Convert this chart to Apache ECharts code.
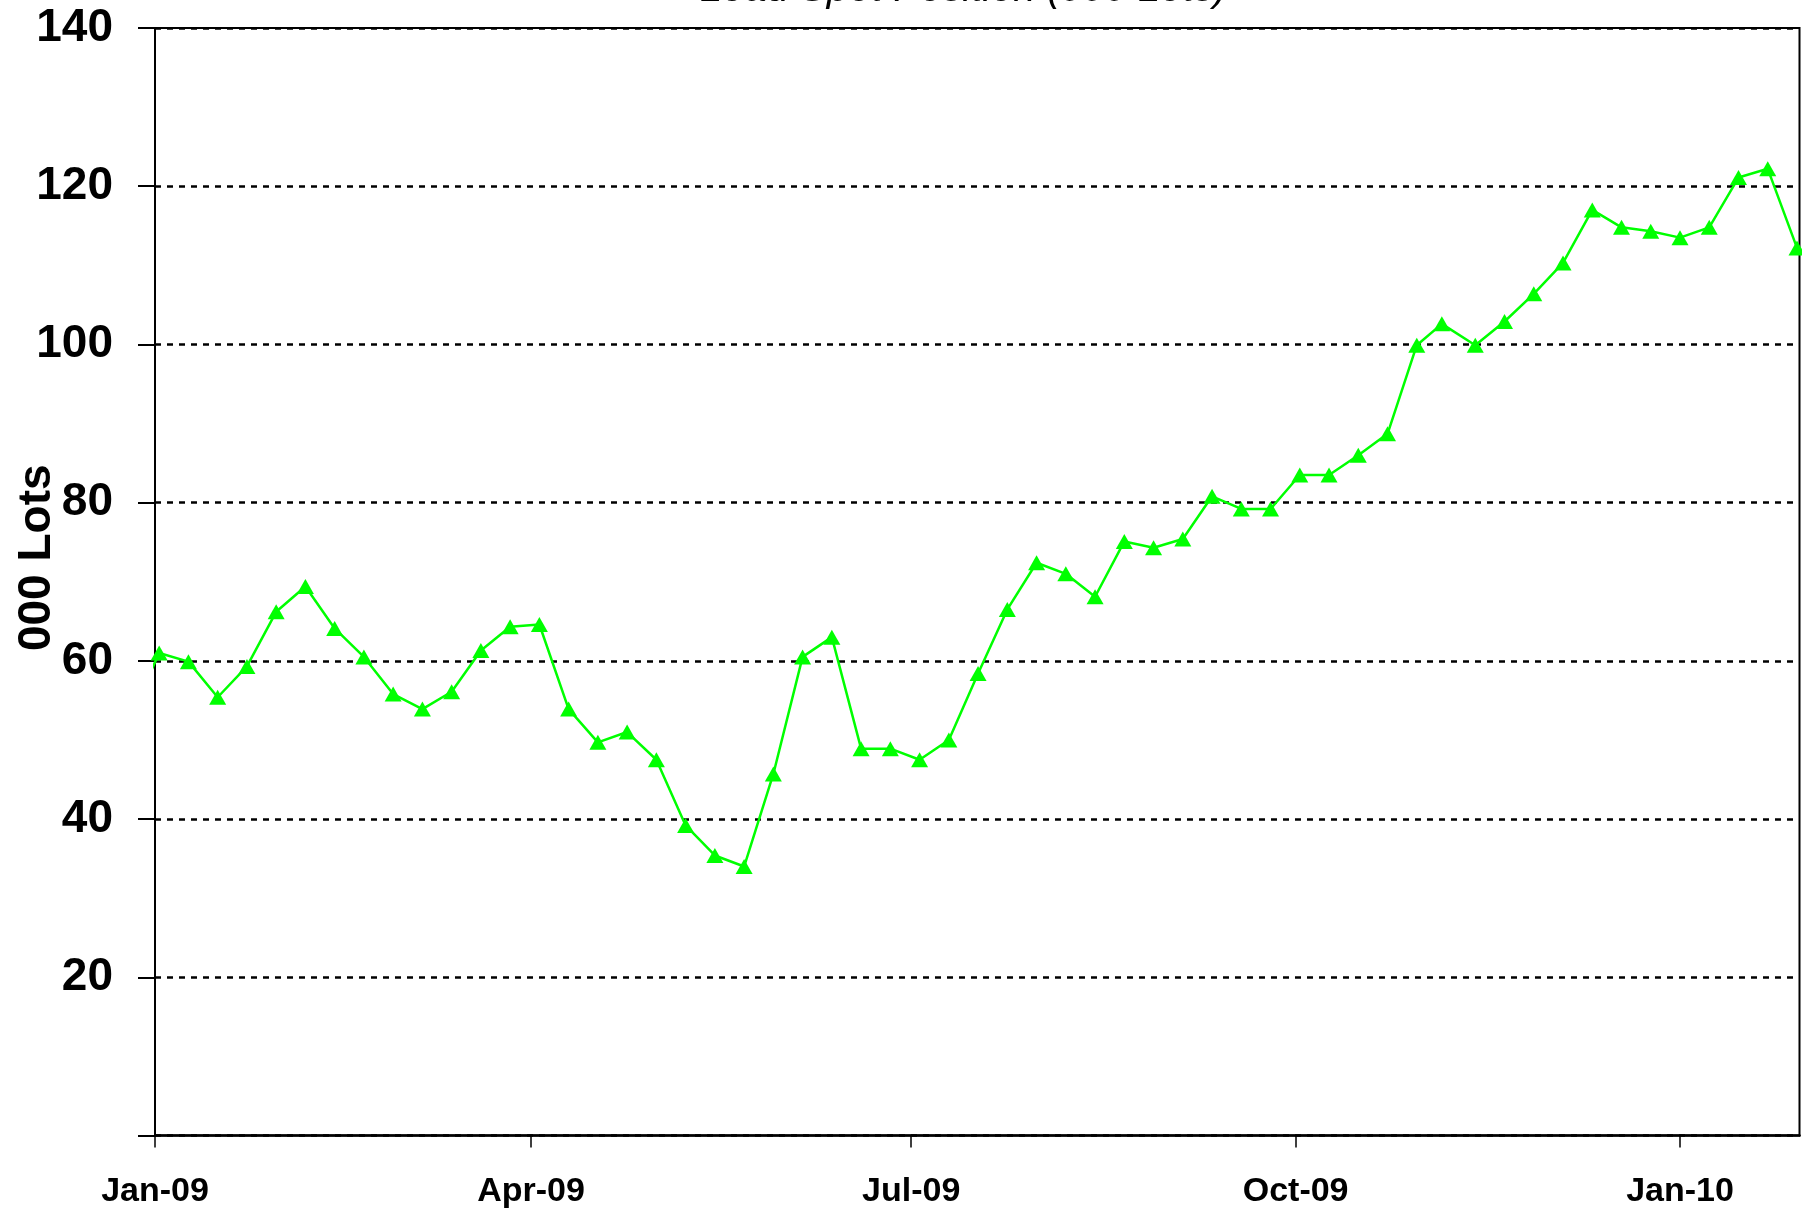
<!DOCTYPE html>
<html>
<head>
<meta charset="utf-8">
<title>Spot Position</title>
<script src="https://cdn.jsdelivr.net/npm/echarts@6/dist/echarts.min.js"></script>
<style>
  html, body { margin: 0; padding: 0; background: #fff; }
  #main { width: 1802px; height: 1210px; }
</style>
</head>
<body>
<div id="main"></div>
<script>
// weekly observations (Fridays), first one sits just before the axis start
const weeks = [
  "2008-12-26",
  "2009-01-02", "2009-01-09", "2009-01-16", "2009-01-23", "2009-01-30",
  "2009-02-06", "2009-02-13", "2009-02-20", "2009-02-27",
  "2009-03-06", "2009-03-13", "2009-03-20", "2009-03-27",
  "2009-04-03", "2009-04-10", "2009-04-17", "2009-04-24",
  "2009-05-01", "2009-05-08", "2009-05-15", "2009-05-22", "2009-05-29",
  "2009-06-05", "2009-06-12", "2009-06-19", "2009-06-26",
  "2009-07-03", "2009-07-10", "2009-07-17", "2009-07-24", "2009-07-31",
  "2009-08-07", "2009-08-14", "2009-08-21", "2009-08-28",
  "2009-09-04", "2009-09-11", "2009-09-18", "2009-09-25",
  "2009-10-02", "2009-10-09", "2009-10-16", "2009-10-23", "2009-10-30",
  "2009-11-05", "2009-11-13", "2009-11-20", "2009-11-27",
  "2009-12-04", "2009-12-11", "2009-12-18", "2009-12-25",
  "2010-01-01", "2010-01-08", "2010-01-15", "2010-01-22", "2010-01-29",
];
const lots = [
  52.8,
  61.0, 59.9, 55.4, 59.3, 66.2,
  69.4, 64.1, 60.5, 55.8,
  53.9, 56.1, 61.3, 64.3,
  64.6, 53.9, 49.7, 51.0,
  47.5, 39.2, 35.4, 34.0, 45.7,
  60.5, 63.0, 48.9, 48.9,
  47.5, 50.0, 58.4, 66.5, 72.4,
  71.0, 68.1, 75.1, 74.3,
  75.4, 80.8, 79.2, 79.2,
  83.5, 83.5, 86.0, 88.7, 99.9,
  102.6, 99.9, 102.9, 106.4,
  110.3, 117.0, 114.8, 114.3,
  113.5, 114.8, 121.1, 122.2, 112.2,
];
const quarterTicks = ["2009-01-01", "2009-04-01", "2009-07-01", "2009-10-01", "2010-01-01"];
const monthNames = ["Jan", "Feb", "Mar", "Apr", "May", "Jun", "Jul", "Aug", "Sep", "Oct", "Nov", "Dec"];
const titleText = "Lead Spot Position (000 Lots)";

const font = '"Liberation Sans", Arial, sans-serif';
const DAY = 86400000;
const ts = (s) => {
  const [y, m, d] = s.split("-").map(Number);
  return Date.UTC(y, m - 1, d);
};
const tickTs = quarterTicks.map(ts);

const chart = echarts.init(document.getElementById("main"));
chart.setOption({
  animation: false,
  backgroundColor: "#fff",
  title: {
    text: titleText,
    left: 695,
    top: -35,
    textStyle: { fontFamily: font, fontSize: 40, fontStyle: "italic", fontWeight: "normal", color: "#000" },
  },
  grid: {
    left: 155,
    right: 2.5,
    top: 28,
    bottom: 74.5,
    outerBoundsMode: "none",
    containLabel: false,
    show: true,
    borderColor: "#000",
    borderWidth: 2,
  },
  xAxis: {
    // dates as timestamps on a plain value axis so ticks can sit on quarter starts
    type: "value",
    min: ts("2009-01-01"),
    max: ts("2010-01-29") + 0.6 * DAY,
    axisLine: { lineStyle: { color: "#000", width: 2.5 } },
    axisTick: { show: true, length: 12, customValues: tickTs, lineStyle: { color: "#000", width: 1.5 } },
    axisLabel: {
      customValues: tickTs,
      formatter(v) {
        const d = new Date(v);
        return monthNames[d.getUTCMonth()] + "-" + String(d.getUTCFullYear() % 100).padStart(2, "0");
      },
      fontFamily: font,
      fontSize: 34,
      fontWeight: "bold",
      color: "#000",
      margin: 39,
    },
    splitLine: { show: false },
  },
  yAxis: {
    type: "value",
    min: 0,
    max: 140,
    interval: 20,
    name: "000 Lots",
    nameLocation: "middle",
    nameGap: 95,
    nameMoveOverlap: false,
    nameTextStyle: { fontFamily: font, fontSize: 46, fontWeight: "bold", color: "#000", padding: [0, 0, 0, 48] },
    axisLine: { show: true, lineStyle: { color: "#000", width: 2 } },
    axisTick: { show: true, length: 17, lineStyle: { color: "#000", width: 2 } },
    axisLabel: {
      formatter: (v) => (v === 0 ? "" : String(v)),
      fontFamily: font,
      fontSize: 46,
      fontWeight: "bold",
      color: "#000",
      margin: 42,
    },
    splitLine: { show: true, lineStyle: { color: "#000", width: 2.5, type: [6, 6] } },
  },
  series: [
    {
      type: "line",
      data: weeks.map((d, i) => [ts(d), lots[i]]),
      symbol: "triangle",
      symbolSize: [17, 15],
      showAllSymbol: true,
      clip: true,
      lineStyle: { color: "#00ff00", width: 2.5 },
      itemStyle: { color: "#00ff00" },
    },
  ],
});
</script>
</body>
</html>
